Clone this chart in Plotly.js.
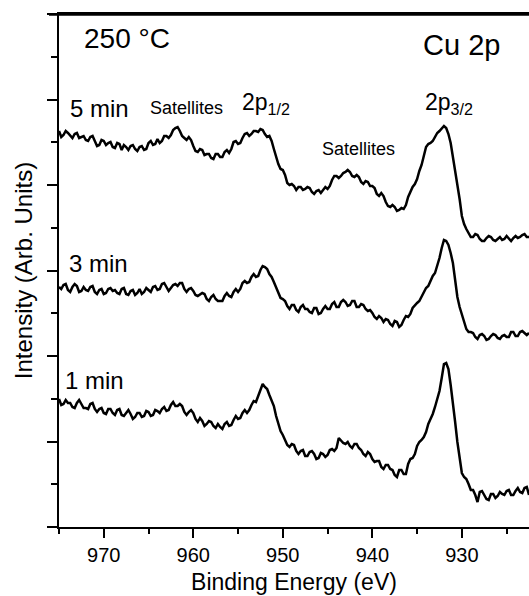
<!DOCTYPE html>
<html>
<head>
<meta charset="utf-8">
<script src="https://cdn.plot.ly/plotly-3.0.1.min.js"></script>
<style>
  html, body { margin: 0; padding: 0; background: #fff; }
  #chart { width: 529px; height: 596px; }
</style>
</head>
<body>
<div id="chart"></div>
<script>
// Binding energy grid (eV)
const energy = [
  975, 974.75, 974.5, 974.25, 974, 973.75, 973.5, 973.25, 973, 972.75,
  972.5, 972.25, 972, 971.75, 971.5, 971.25, 971, 970.75, 970.5, 970.25,
  970, 969.75, 969.5, 969.25, 969, 968.75, 968.5, 968.25, 968, 967.75,
  967.5, 967.25, 967, 966.75, 966.5, 966.25, 966, 965.75, 965.5, 965.25,
  965, 964.75, 964.5, 964.25, 964, 963.75, 963.5, 963.25, 963, 962.75,
  962.5, 962.25, 962, 961.75, 961.5, 961.25, 961, 960.75, 960.5, 960.25,
  960, 959.75, 959.5, 959.25, 959, 958.75, 958.5, 958.25, 958, 957.75,
  957.5, 957.25, 957, 956.75, 956.5, 956.25, 956, 955.75, 955.5, 955.25,
  955, 954.75, 954.5, 954.25, 954, 953.75, 953.5, 953.25, 953, 952.75,
  952.5, 952.25, 952, 951.75, 951.5, 951.25, 951, 950.75, 950.5, 950.25,
  950, 949.75, 949.5, 949.25, 949, 948.75, 948.5, 948.25, 948, 947.75,
  947.5, 947.25, 947, 946.75, 946.5, 946.25, 946, 945.75, 945.5, 945.25,
  945, 944.75, 944.5, 944.25, 944, 943.75, 943.5, 943.25, 943, 942.75,
  942.5, 942.25, 942, 941.75, 941.5, 941.25, 941, 940.75, 940.5, 940.25,
  940, 939.75, 939.5, 939.25, 939, 938.75, 938.5, 938.25, 938, 937.75,
  937.5, 937.25, 937, 936.75, 936.5, 936.25, 936, 935.75, 935.5, 935.25,
  935, 934.75, 934.5, 934.25, 934, 933.75, 933.5, 933.25, 933, 932.75,
  932.5, 932.25, 932, 931.75, 931.5, 931.25, 931, 930.75, 930.5, 930.25,
  930, 929.75, 929.5, 929.25, 929, 928.75, 928.5, 928.25, 928, 927.75,
  927.5, 927.25, 927, 926.75, 926.5, 926.25, 926, 925.75, 925.5, 925.25,
  925, 924.75, 924.5, 924.25, 924, 923.75, 923.5, 923.25, 923, 922.75,
  922.5
];

// Intensities (arbitrary units, spectra stacked with offsets)
const int5min = [
  396,390,392,396,394,391,389,393,394,389,
  390,391,387,386,390,391,386,381,382,387,
  386,382,384,385,380,379,384,383,377,382,
  380,377,381,382,378,376,380,381,377,378,
  384,386,382,383,388,384,386,391,391,389,
  392,397,399,400,396,391,389,387,390,387,
  381,376,375,378,377,372,373,373,369,368,
  373,373,370,370,375,377,374,378,385,386,
  383,384,389,393,394,391,393,396,396,395,
  398,397,393,390,391,386,378,370,363,358,
  357,352,344,342,343,341,337,340,340,337,
  338,340,339,335,333,336,337,334,337,340,
  338,341,347,351,351,349,351,354,355,357,
  355,351,350,352,350,345,343,346,345,341,
  341,339,333,331,334,331,325,321,320,322,
  320,316,317,319,318,322,330,336,340,343,
  348,356,362,371,380,383,384,386,390,394,
  396,398,401,399,393,384,371,358,344,328,
  311,303,298,294,290,290,293,292,288,286,
  286,289,291,290,287,286,288,290,287,288,
  291,289,286,289,291,289,290,292,293,290,
  290
];
const int3min = [
  240,238,242,243,237,235,240,243,241,235,
  236,240,237,236,240,241,235,233,237,238,
  233,234,238,239,236,237,234,233,238,239,
  233,232,236,237,232,234,238,233,235,239,
  237,235,240,241,237,238,243,244,240,236,
  239,242,243,241,244,244,238,235,238,239,
  236,232,231,233,234,233,228,226,230,232,
  228,226,226,226,231,234,231,230,235,238,
  235,238,244,246,244,245,250,253,250,251,
  257,261,260,258,253,250,245,240,234,229,
  228,226,221,218,222,222,217,215,220,222,
  218,218,215,214,219,219,213,214,218,221,
  218,218,223,225,220,220,225,227,225,221,
  222,226,226,220,220,223,222,218,216,217,
  214,210,208,211,209,205,208,207,203,201,
  206,205,200,202,207,211,210,213,219,222,
  224,226,230,235,239,241,246,251,254,261,
  269,279,287,286,282,274,264,247,230,220,
  212,204,198,195,195,194,190,188,192,193,
  191,187,188,191,193,192,189,188,191,192,
  190,190,195,195,191,191,195,196,194,192,
  194
];
const int1min = [
  128,122,123,127,124,124,120,119,124,127,
  123,119,119,118,123,124,118,115,118,119,
  114,113,118,118,114,112,117,118,112,111,
  114,117,113,108,110,114,114,110,111,116,
  115,111,112,117,116,114,118,120,116,117,
  122,125,121,121,123,121,115,112,115,117,
  114,108,105,109,106,101,103,106,105,101,
  99,103,100,98,103,105,101,102,107,111,
  108,109,114,117,114,117,122,126,125,131,
  139,143,140,138,132,127,121,111,102,96,
  92,87,82,80,83,82,76,73,76,77,
  71,71,75,76,73,68,69,74,73,70,
  72,77,78,76,79,89,86,84,83,85,
  81,79,83,83,79,77,73,71,75,73,
  68,65,66,66,60,58,62,62,58,57,
  52,50,57,57,53,53,63,68,69,73,
  81,85,87,90,95,103,108,113,120,128,
  136,149,163,164,158,142,126,105,85,69,
  54,50,48,43,37,37,32,25,35,36,
  32,28,27,33,33,29,31,35,33,32,
  36,37,32,32,36,39,35,34,39,40,
  32
];

const seriesNames = ['5 min', '3 min', '1 min'];
const xTickVals = [970, 960, 950, 940, 930];
const xTickText = ['970', '960', '950', '940', '930'];

const FONT = 'Liberation Sans, Arial, Helvetica, sans-serif';
const lineStyle = {color: '#000', width: 2.5};

const traces = [int5min, int3min, int1min].map((ys, i) => ({
  type: 'scatter',
  mode: 'lines',
  name: seriesNames[i],
  x: energy,
  y: ys,
  line: lineStyle,
  hoverinfo: 'skip'
}));

const layout = {
  width: 529,
  height: 596,
  margin: {l: 59, r: 0, t: 14, b: 69},
  paper_bgcolor: '#fff',
  plot_bgcolor: '#fff',
  showlegend: false,
  font: {family: FONT, color: '#000'},
  xaxis: {
    range: [975, 922.5],
    tickmode: 'array',
    tickvals: xTickVals,
    ticktext: xTickText,
    ticks: 'outside',
    ticklen: 9,
    tickwidth: 2,
    tickcolor: '#000',
    showline: true,
    linewidth: 2,
    linecolor: '#000',
    mirror: true,
    showgrid: false,
    zeroline: false,
    tickfont: {size: 20, family: FONT, color: '#000'},
    minor: {tickmode: 'linear', tick0: 975, dtick: 5, ticks: 'outside', ticklen: 5, tickwidth: 2, tickcolor: '#000', showgrid: false},
    title: {text: 'Binding Energy (eV)', font: {size: 23, family: FONT, color: '#000'}, standoff: 9}
  },
  yaxis: {
    range: [0, 513],
    tickmode: 'linear',
    tick0: 0,
    dtick: 85.5,
    ticks: 'outside',
    ticklen: 10,
    tickwidth: 2,
    tickcolor: '#000',
    showticklabels: false,
    showline: true,
    linewidth: 2,
    linecolor: '#000',
    mirror: false,
    showgrid: false,
    zeroline: false,
    minor: {tickmode: 'linear', tick0: 0, dtick: 42.75, ticks: 'outside', ticklen: 6, tickwidth: 2, tickcolor: '#000', showgrid: false},
    title: {text: 'Intensity (Arb. Units)', font: {size: 24, family: FONT, color: '#000'}, standoff: 8}
  },
  shapes: [
    {type: 'line', xref: 'paper', yref: 'paper', x0: -0.0213, x1: 1, y0: 0.999, y1: 0.999, line: {color: '#000', width: 2.5}}
  ],
  annotations: [
    {text: '250 °C', xref: 'paper', yref: 'paper', x: 0.049, y: 0.953, xanchor: 'left', yanchor: 'middle', showarrow: false, font: {size: 28, family: FONT, color: '#000'}},
    {text: 'Cu 2p', xref: 'paper', yref: 'paper', x: 0.9426, y: 0.9396, xanchor: 'right', yanchor: 'middle', showarrow: false, font: {size: 29, family: FONT, color: '#000'}},
    {text: '5 min', xref: 'paper', yref: 'paper', x: 0.019, y: 0.8158, xanchor: 'left', yanchor: 'middle', showarrow: false, font: {size: 24, family: FONT, color: '#000'}},
    {text: '3 min', xref: 'paper', yref: 'paper', x: 0.017, y: 0.5136, xanchor: 'left', yanchor: 'middle', showarrow: false, font: {size: 24, family: FONT, color: '#000'}},
    {text: '1 min', xref: 'paper', yref: 'paper', x: 0.0085, y: 0.2865, xanchor: 'left', yanchor: 'middle', showarrow: false, font: {size: 24, family: FONT, color: '#000'}},
    {text: 'Satellites', xref: 'paper', yref: 'paper', x: 0.1894, y: 0.8162, xanchor: 'left', yanchor: 'middle', showarrow: false, font: {size: 18, family: FONT, color: '#000'}},
    {text: 'Satellites', xref: 'paper', yref: 'paper', x: 0.555, y: 0.7368, xanchor: 'left', yanchor: 'middle', showarrow: false, font: {size: 18, family: FONT, color: '#000'}},
    {text: '2p<sub>1/2</sub>', xref: 'paper', yref: 'paper', x: 0.385, y: 0.8246, xanchor: 'left', yanchor: 'middle', showarrow: false, font: {size: 23, family: FONT, color: '#000'}},
    {text: '2p<sub>3/2</sub>', xref: 'paper', yref: 'paper', x: 0.7745, y: 0.8246, xanchor: 'left', yanchor: 'middle', showarrow: false, font: {size: 23, family: FONT, color: '#000'}}
  ]
};

Plotly.newPlot('chart', traces, layout, {displayModeBar: false, staticPlot: true});
</script>
</body>
</html>
